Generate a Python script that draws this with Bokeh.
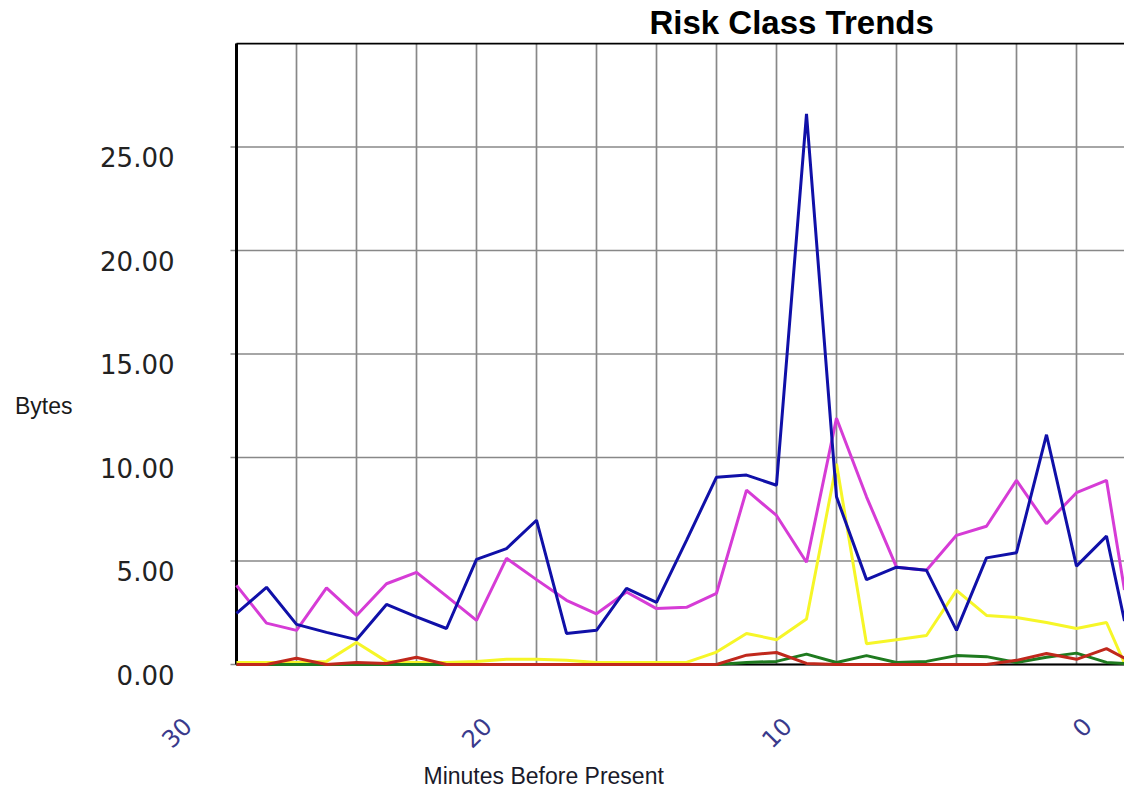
import math
from bokeh.plotting import figure
from bokeh.models import (Range1d, FixedTicker, LinearAxis, Title)
from bokeh.embed import file_html
from bokeh.resources import INLINE

# ---- data ----
minutes = [28, 27, 26, 25, 24, 23, 22, 21, 20, 19, 18,
           17, 16, 15, 14, 13, 12, 11, 10, 9,
           8, 7, 6, 5, 4, 3, 2, 1, 0,
           -1, -1.6]

series_blue = [2.47, 3.73, 1.94, 1.55, 1.2, 2.9, 2.3, 1.74, 5.08, 5.6, 6.97,
               1.5, 1.65, 3.68, 3.0, 6.0, 9.05, 9.15, 8.66, 26.6,
               8.1, 4.1, 4.7, 4.55, 1.65, 5.15, 5.4, 11.1, 4.75,
               6.2, 2.1]
series_magenta = [3.82, 2.0, 1.65, 3.7, 2.37, 3.9, 4.45, 3.3, 2.13, 5.13, 4.1,
                  3.1, 2.45, 3.5, 2.7, 2.76, 3.44, 8.42, 7.2, 4.94,
                  11.9, 8.1, 4.7, 4.55, 6.24, 6.68, 8.9, 6.8, 8.3,
                  8.9, 3.6]
series_yellow = [0.1, 0.1, 0.1, 0.15, 1.06, 0.15, 0.1, 0.1, 0.15, 0.25, 0.25,
                 0.2, 0.1, 0.1, 0.1, 0.1, 0.6, 1.5, 1.2, 2.2,
                 9.7, 1.0, 1.2, 1.4, 3.58, 2.37, 2.27, 2.03, 1.74,
                 2.03, 0.05]
series_red = [0.0, 0.0, 0.3, 0.0, 0.1, 0.05, 0.35, 0.0, 0.0, 0.0, 0.0,
              0.0, 0.0, 0.0, 0.0, 0.0, 0.0, 0.45, 0.58, 0.05,
              0.0, 0.0, 0.0, 0.0, 0.0, 0.0, 0.2, 0.53, 0.25,
              0.77, 0.3]
series_green = [0.0, 0.0, 0.0, 0.0, 0.0, 0.0, 0.0, 0.0, 0.0, 0.0, 0.0,
                0.0, 0.0, 0.0, 0.0, 0.0, 0.0, 0.1, 0.15, 0.5,
                0.1, 0.43, 0.1, 0.15, 0.43, 0.38, 0.1, 0.35, 0.55,
                0.1, 0.05]

y_tick_values = [0, 5, 10, 15, 20, 25]
y_tick_labels = ["0.00", "5.00", "10.00", "15.00", "20.00", "25.00"]
x_tick_values = [30, 20, 10, 0]
x_tick_labels = ["30", "20", "10", "0"]
x_grid_values = [28, 26, 24, 22, 20, 18, 16, 14, 12, 10, 8, 6, 4, 2, 0]
y_top = 30
x_first = 28

title_text = "Risk Class Trends"
x_title = "Minutes Before Present"
y_title = "Bytes"

# ---- layout constants (pixels) ----
W, H = 1124, 794
PX_MIN = 30.0      # pixels per minute
PX_UNIT = 20.7     # pixels per byte unit
FRAME_LEFT = 176
FRAME_TOP = 42
FRAME_BOTTOM = 680
ZERO_PX = 664

x_start = 30.0
x_end = x_start - (W - FRAME_LEFT) / PX_MIN
y_start = -(FRAME_BOTTOM - ZERO_PX) / PX_UNIT
y_end = (ZERO_PX - FRAME_TOP) / PX_UNIT

XT_FONT = 24
ylab_shift = 10 / PX_UNIT                               # labels 10px below grid line
xlab_shift = (1.272 * XT_FONT / 2 * 0.707) / PX_MIN     # centre rotated labels under tick
bytes_shift = 0.5

p = figure(width=W, height=H, output_backend="svg", toolbar_location=None, title=None,
           x_range=Range1d(x_start, x_end), y_range=Range1d(y_start, y_end),
           x_axis_location=None, y_axis_location=None,
           min_border_left=FRAME_LEFT, min_border_right=0,
           min_border_top=FRAME_TOP, min_border_bottom=H - FRAME_BOTTOM)
p.outline_line_color = None
p.background_fill_color = "white"
p.border_fill_color = "white"
p.grid.visible = False

p.extra_x_ranges = {"xlab": Range1d(x_start + xlab_shift, x_end + xlab_shift)}
p.extra_y_ranges = {"ylab": Range1d(y_start + ylab_shift, y_end + ylab_shift),
                    "bytes": Range1d(y_start + bytes_shift, y_end + bytes_shift)}

# y tick labels
yl = LinearAxis(y_range_name="ylab", ticker=FixedTicker(ticks=y_tick_values),
                major_label_overrides=dict(zip(y_tick_values, y_tick_labels)),
                axis_line_color=None, major_tick_line_color=None, minor_tick_line_color=None,
                major_tick_out=0, major_tick_in=0, major_label_standoff=2,
                major_label_text_font="DejaVu Sans", major_label_text_font_size="26px",
                major_label_text_color="#222222")
p.add_layout(yl, "left")

# y title ("Bytes") as a single labelled tick, horizontal
yb = LinearAxis(y_range_name="bytes", ticker=FixedTicker(ticks=[13]),
                major_label_overrides={13: y_title},
                axis_line_color=None, major_tick_line_color=None, minor_tick_line_color=None,
                major_tick_out=0, major_tick_in=0, major_label_standoff=25,
                major_label_text_font="Liberation Sans", major_label_text_font_size="23px",
                major_label_text_color="#1a1a1a")
p.add_layout(yb, "left")

# x tick labels, rotated
xl = LinearAxis(x_range_name="xlab", ticker=FixedTicker(ticks=x_tick_values),
                major_label_overrides=dict(zip(x_tick_values, x_tick_labels)),
                major_label_orientation=math.pi / 4,
                axis_line_color=None, major_tick_line_color=None, minor_tick_line_color=None,
                major_tick_out=0, major_tick_in=0, major_label_standoff=41,
                major_label_text_font="DejaVu Sans", major_label_text_font_size=f"{XT_FONT}px",
                major_label_text_color="#3a3a8c")
p.add_layout(xl, "below")

p.add_layout(Title(text=x_title, align="left", offset=247, standoff=5,
                   text_font="Liberation Sans", text_font_size="23px",
                   text_font_style="normal", text_color="#1a1a2a"), "below")
p.add_layout(Title(text=title_text, align="left", offset=473, standoff=3,
                   text_font="Liberation Sans", text_font_size="33px",
                   text_font_style="bold", text_color="black"), "above")

# grid lines (bounded to the chart area)
nx = len(x_grid_values)
p.segment(x0=x_grid_values, y0=[0] * nx, x1=x_grid_values, y1=[y_top] * nx,
          line_color="#888888", line_width=1.7)
ny = len(y_tick_values)
stub = 6 / PX_MIN
p.segment(x0=[x_first + stub] * ny, y0=y_tick_values, x1=[x_end] * ny, y1=y_tick_values,
          line_color="#888888", line_width=1.7)

# frame lines: left axis, bottom axis, top border
p.segment(x0=[x_first], y0=[0], x1=[x_first], y1=[y_top], line_color="black", line_width=3)
p.segment(x0=[x_first], y0=[0], x1=[x_end], y1=[0], line_color="black", line_width=2)
p.segment(x0=[x_first], y0=[y_top], x1=[x_end], y1=[y_top], line_color="black", line_width=2)

# series
p.line(minutes, series_yellow, line_color="#f6f628", line_width=3)
p.line(minutes, series_green, line_color="#1f7a1f", line_width=3)
p.line(minutes, series_red, line_color="#c0281c", line_width=3)
p.line(minutes, series_magenta, line_color="#d63cd6", line_width=3)
p.line(minutes, series_blue, line_color="#1010a8", line_width=3)

open("out.html", "w").write(file_html(p, INLINE))
